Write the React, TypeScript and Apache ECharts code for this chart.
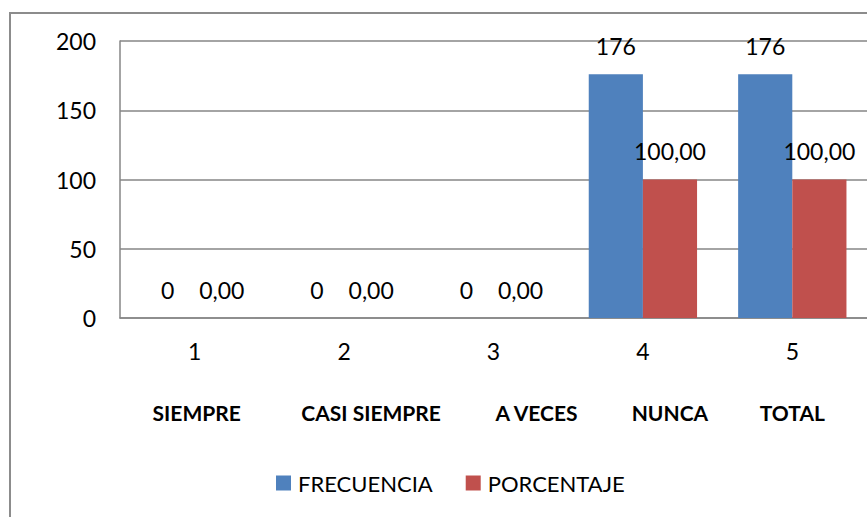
import React, { useEffect, useRef } from "react";
import * as echarts from "echarts";

const categories = ["1", "2", "3", "4", "5"];
const groupNames = ["SIEMPRE", "CASI SIEMPRE", "A VECES", "NUNCA", "TOTAL"];
const frecuencia = [0, 0, 0, 176, 176];
const porcentaje = [0, 0, 0, 100, 100];
const yTicks = { min: 0, max: 200, interval: 50 };
// horizontal shift (px) of each group name relative to its category centre, as seen in the reference
const groupShift = [2, 27, 43, 27, 0];

const FONT = "Lato, 'Noto Sans', sans-serif";

export default function App() {
  const ref = useRef<HTMLDivElement>(null);
  useEffect(() => {
    if (!ref.current) return;
    const chart = echarts.init(ref.current, null, { renderer: "svg" });
    const rich: Record<string, any> = {};
    groupShift.forEach((s, i) => {
      rich["g" + i] = {
        fontSize: 21,
        fontWeight: "bold",
        color: "#000",
        fontFamily: FONT,
        padding: s >= 0 ? [0, 0, 0, 2 * s] : [0, -2 * s, 0, 0],
      };
    });
    chart.setOption({
      animation: false,
      backgroundColor: "#ffffff",
      textStyle: { fontFamily: FONT },
      graphic: [
        {
          type: "rect",
          shape: { x: 10, y: 13, width: 900, height: 600 },
          style: { fill: "none", stroke: "#8c8c8c", lineWidth: 2 },
          silent: true,
        },
      ],
      grid: { left: 120, top: 41, right: 0, bottom: 199, containLabel: false },
      legend: {
        left: 276,
        top: 472,
        padding: 0,
        icon: "rect",
        itemWidth: 15,
        itemHeight: 15,
        itemGap: 33,
        textStyle: { fontSize: 22, color: "#000", fontFamily: FONT, padding: [0, 0, 0, 2] },
        data: ["FRECUENCIA", "PORCENTAJE"],
      },
      xAxis: [
        {
          type: "category",
          data: categories,
          axisLine: { lineStyle: { color: "#868686", width: 1.5 } },
          axisTick: { show: false },
          axisLabel: { interval: 0, color: "#000", fontSize: 23, margin: 21, fontFamily: FONT },
        },
        {
          type: "category",
          data: groupNames,
          position: "bottom",
          offset: 63,
          axisLine: { show: false },
          axisTick: { show: false },
          axisLabel: {
            interval: 0,
            margin: 21,
            formatter: (v: string, i: number) => `{g${i}|${v}}`,
            rich,
          },
        },
      ],
      yAxis: {
        type: "value",
        min: yTicks.min,
        max: yTicks.max,
        interval: yTicks.interval,
        axisLine: { show: true, lineStyle: { color: "#868686", width: 1.5 } },
        axisTick: { show: false },
        axisLabel: { color: "#000", fontSize: 23, margin: 24, fontFamily: FONT },
        splitLine: { lineStyle: { color: "#868686", width: 1.5 } },
      },
      series: [
        {
          name: "FRECUENCIA",
          type: "bar",
          xAxisIndex: 0,
          data: frecuencia,
          barGap: "0%",
          barCategoryGap: "27.5%",
          itemStyle: { color: "#4f81bd" },
          label: {
            show: true,
            position: "top",
            distance: 17,
            color: "#000",
            fontSize: 23,
            fontFamily: FONT,
            formatter: (p: any) => String(p.value),
          },
        },
        {
          name: "PORCENTAJE",
          type: "bar",
          xAxisIndex: 0,
          data: porcentaje,
          itemStyle: { color: "#c0504d" },
          label: {
            show: true,
            position: "top",
            distance: 17,
            color: "#000",
            fontSize: 23,
            fontFamily: FONT,
            formatter: (p: any) => Number(p.value).toFixed(2).replace(".", ","),
          },
        },
      ],
    });
    return () => chart.dispose();
  }, []);
  return (
    <div
      ref={ref}
      style={{ position: "fixed", left: 0, top: 0, width: 867, height: 517 }}
    />
  );
}
